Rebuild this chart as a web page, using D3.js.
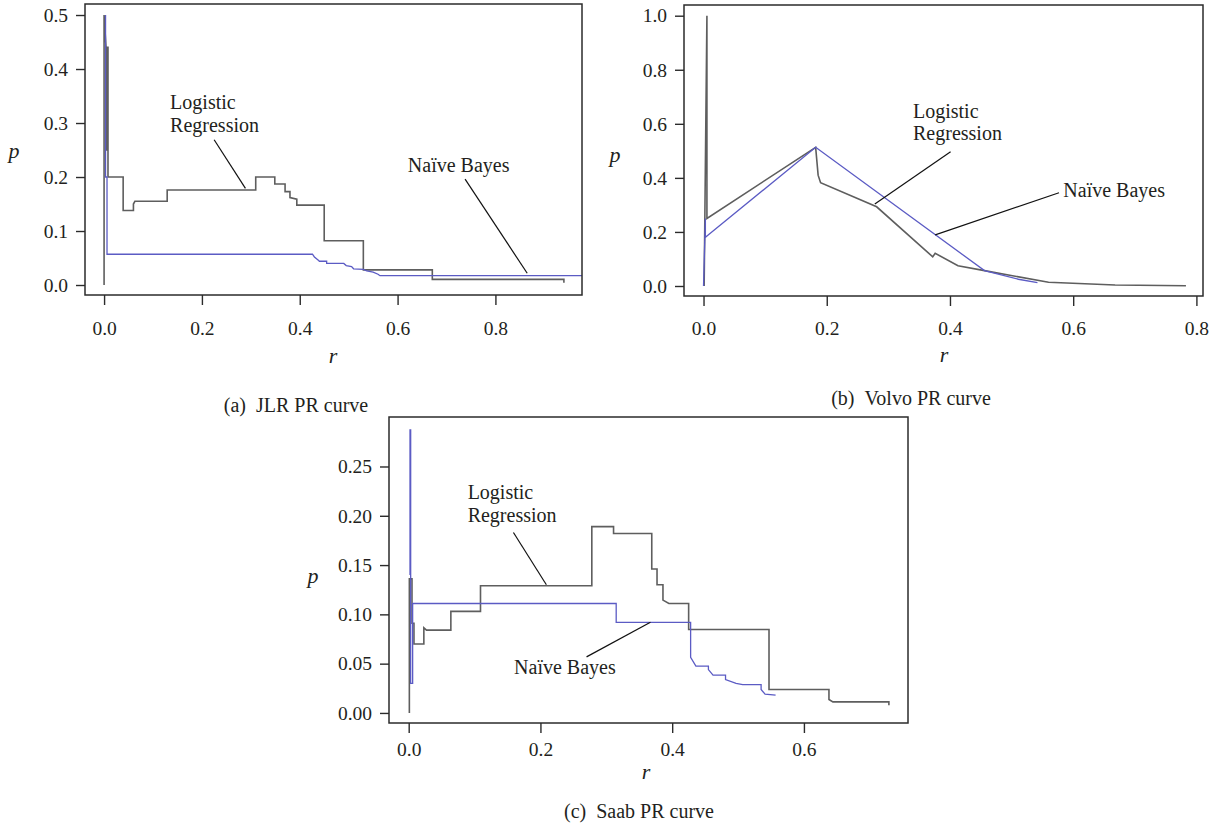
<!DOCTYPE html>
<html>
<head>
<meta charset="utf-8">
<script src="https://cdn.jsdelivr.net/npm/d3@7"></script>
<style>
    body { margin: 0; background: white; }
    text { font-family: "Liberation Serif", "DejaVu Serif", serif; fill: #231f20; }
</style>
</head>
<body>
<svg id="chart" width="1216" height="831"></svg>
<script>
// [recall r, precision p]
var jlrLogistic = [[0,0],[0,0.5],[0.004,0.44],[0.004,0.25],[0.006,0.25],[0.006,0.44],[0.008,0.44],[0.008,0.2],
    [0.039,0.2],[0.039,0.138],[0.06,0.138],[0.06,0.15],[0.063,0.155],[0.129,0.155],[0.129,0.176],[0.31,0.176],
    [0.31,0.2],[0.349,0.2],[0.349,0.187],[0.37,0.187],[0.37,0.173],[0.38,0.173],[0.38,0.162],[0.394,0.159],
    [0.394,0.148],[0.45,0.148],[0.45,0.082],[0.53,0.082],[0.53,0.028],[0.671,0.028],[0.671,0.0105],[0.94,0.0105],[0.94,0.004]]
var jlrBayes = [[0.003,0.5],[0.003,0.2],[0.006,0.2],[0.006,0.057],[0.426,0.057],[0.43,0.052],[0.438,0.046],
    [0.44,0.044],[0.455,0.044],[0.455,0.04],[0.49,0.04],[0.495,0.036],[0.506,0.034],[0.51,0.03],[0.53,0.029],
    [0.537,0.026],[0.55,0.024],[0.56,0.02],[0.564,0.0173],[1.0,0.0173]]

var volvoLogistic = [[0.001,0],[0.0055,1.0],[0.0055,0.25],[0.182,0.513],[0.186,0.41],[0.19,0.382],[0.281,0.293],
    [0.372,0.108],[0.376,0.121],[0.413,0.075],[0.456,0.057],[0.56,0.0137],[0.668,0.0037],[0.783,0.001]]
var volvoBayes = [[0,0],[0.003,0.25],[0.003,0.18],[0.008,0.19],[0.182,0.513],[0.456,0.057],[0.511,0.025],[0.542,0.0123]]

var saabLogistic = [[0.001,0],[0.001,0.136],[0.005,0.136],[0.005,0.091],[0.008,0.091],[0.008,0.07],[0.023,0.07],
    [0.023,0.0864],[0.027,0.084],[0.064,0.084],[0.064,0.103],[0.109,0.103],[0.109,0.129],[0.278,0.129],[0.278,0.189],
    [0.311,0.189],[0.311,0.182],[0.369,0.182],[0.369,0.146],[0.377,0.146],[0.377,0.13],[0.386,0.13],[0.386,0.1145],
    [0.395,0.111],[0.425,0.111],[0.425,0.0847],[0.547,0.0847],[0.547,0.0238],[0.638,0.0238],[0.638,0.0136],
    [0.644,0.0112],[0.729,0.0112],[0.729,0.0078]]
var saabBayes = [[0.002,0.14],[0.002,0.287],[0.003,0.287],[0.003,0.03],[0.006,0.03],[0.006,0.111],[0.315,0.111],
    [0.315,0.0918],[0.428,0.0918],[0.428,0.0563],[0.436,0.0475],[0.455,0.0475],[0.455,0.044],[0.462,0.0383],
    [0.481,0.0383],[0.481,0.0339],[0.497,0.0299],[0.507,0.0288],[0.535,0.0288],[0.535,0.0238],[0.541,0.019],[0.557,0.018]]

var jlrYTicks = [0, 0.1, 0.2, 0.3, 0.4, 0.5]
var volvoYTicks = [0, 0.2, 0.4, 0.6, 0.8, 1.0]
var saabYTicks = [0, 0.05, 0.1, 0.15, 0.2, 0.25]
var jlrXTicks = [0, 0.2, 0.4, 0.6, 0.8]
var volvoXTicks = [0, 0.2, 0.4, 0.6, 0.8]
var saabXTicks = [0, 0.2, 0.4, 0.6]

var svg = d3.select("#chart")

var panels = [
    {
        id: "a", caption: "(a)\u00a0\u00a0JLR PR curve", logistic: jlrLogistic, bayes: jlrBayes,
        box: {left: 85, right: 582, top: 4, bottom: 295},
        xDomain: [-0.039, 0.977], yDomain: [-0.0185, 0.5204],
        xTicks: jlrXTicks, yTicks: jlrYTicks, yFormat: ".1f", xPad: 16,
        pLabel: {x: 14, y: 153}, rLabel: {x: 333, y: 358}, capPos: {x: 296, y: 407},
        logText: [0.135, 0.326, 0.284], logLead: [[0.225, 0.269], [0.289, 0.179]],
        bayText: [0.621, 0.21], bayLead: [[0.738, 0.196], [0.865, 0.0217]]
    },
    {
        id: "b", caption: "(b)\u00a0\u00a0Volvo PR curve", logistic: volvoLogistic, bayes: volvoBayes,
        box: {left: 684, right: 1203, top: 5, bottom: 296},
        xDomain: [-0.0317, 0.8107], yDomain: [-0.037, 1.0396],
        xTicks: volvoXTicks, yTicks: volvoYTicks, yFormat: ".1f", xPad: 15,
        pLabel: {x: 615, y: 157}, rLabel: {x: 944, y: 357}, capPos: {x: 911, y: 400},
        logText: [0.34, 0.62, 0.54], logLead: [[0.401, 0.497], [0.278, 0.303]],
        bayText: [0.584, 0.33], bayLead: [[0.577, 0.345], [0.376, 0.189]]
    },
    {
        id: "c", caption: "(c)\u00a0\u00a0Saab PR curve", logistic: saabLogistic, bayes: saabBayes,
        box: {left: 389, right: 908, top: 417, bottom: 723},
        xDomain: [-0.0299, 0.758], yDomain: [-0.0102, 0.3002],
        xTicks: saabXTicks, yTicks: saabYTicks, yFormat: ".2f", xPad: 9,
        pLabel: {x: 313, y: 578}, rLabel: {x: 646, y: 774}, capPos: {x: 639, y: 813},
        logText: [0.0895, 0.2169, 0.1935], logLead: [[0.159, 0.183], [0.209, 0.13]],
        bayText: [0.16, 0.04], bayLead: [[0.27, 0.0569], [0.367, 0.0919]]
    }
]

panels.forEach(function(cfg) {
    var b = cfg.box
    var xScale = d3.scaleLinear().domain(cfg.xDomain).range([b.left, b.right])
    var yScale = d3.scaleLinear().domain(cfg.yDomain).range([b.bottom, b.top])

    var g = svg.append("g")

    svg.append("clipPath")
       .attr("id", "clip-" + cfg.id)
       .append("rect")
       .attr("x", b.left).attr("y", b.top)
       .attr("width", b.right - b.left).attr("height", b.bottom - b.top)

    var line = d3.line()
                 .x(d => xScale(d[0]))
                 .y(d => yScale(d[1]))

    var curves = g.append("g").attr("clip-path", "url(#clip-" + cfg.id + ")")

    curves.append("path")
          .datum(cfg.logistic)
          .attr("d", line)
          .attr("fill", "none")
          .attr("stroke", "#5e5e5e")
          .attr("stroke-width", 1.6)

    curves.append("path")
          .datum(cfg.bayes)
          .attr("d", line)
          .attr("fill", "none")
          .attr("stroke", "#5b5bc4")
          .attr("stroke-width", 1.3)

    // frame
    g.append("rect")
     .attr("x", b.left).attr("y", b.top)
     .attr("width", b.right - b.left).attr("height", b.bottom - b.top)
     .attr("fill", "none")
     .attr("stroke", "#2b2b2b")
     .attr("stroke-width", 1.5)

    var yAxis = g.append("g")
                 .attr("transform", `translate(${b.left},0)`)
                 .call(d3.axisLeft(yScale).tickValues(cfg.yTicks).tickFormat(d3.format(cfg.yFormat))
                         .tickSize(9).tickPadding(8))
    var xAxis = g.append("g")
                 .attr("transform", `translate(0,${b.bottom})`)
                 .call(d3.axisBottom(xScale).tickValues(cfg.xTicks).tickFormat(d3.format(".1f"))
                         .tickSize(10).tickPadding(cfg.xPad))
    ;[yAxis, xAxis].forEach(function(ax) {
        ax.select(".domain").remove()
        ax.selectAll("line").attr("stroke", "#2b2b2b").attr("stroke-width", 1.4)
        ax.selectAll("text").style("font-size", "19.5px").attr("fill", "#231f20")
          .style("font-family", "'Liberation Serif', serif")
    })

    g.append("text")
     .attr("x", cfg.pLabel.x).attr("y", cfg.pLabel.y)
     .attr("text-anchor", "middle").attr("dominant-baseline", "middle")
     .style("font-size", "22px").style("font-style", "italic")
     .text("p")

    g.append("text")
     .attr("x", cfg.rLabel.x).attr("y", cfg.rLabel.y)
     .attr("text-anchor", "middle").attr("dominant-baseline", "middle")
     .style("font-size", "22px").style("font-style", "italic")
     .text("r")

    g.append("text")
     .attr("x", cfg.capPos.x).attr("y", cfg.capPos.y)
     .attr("text-anchor", "middle").attr("dominant-baseline", "middle")
     .style("font-size", "20px")
     .text(cfg.caption)

    // annotations
    var logLabel = g.append("text")
                    .attr("x", xScale(cfg.logText[0]))
                    .style("font-size", "20px")
    logLabel.append("tspan").attr("x", xScale(cfg.logText[0])).attr("y", yScale(cfg.logText[1])).text("Logistic")
    logLabel.append("tspan").attr("x", xScale(cfg.logText[0])).attr("y", yScale(cfg.logText[2])).text("Regression")

    g.append("text")
     .attr("x", xScale(cfg.bayText[0])).attr("y", yScale(cfg.bayText[1]))
     .style("font-size", "20px")
     .text("Naïve Bayes")

    ;[cfg.logLead, cfg.bayLead].forEach(function(lead) {
        g.append("path")
         .datum(lead)
         .attr("d", line)
         .attr("fill", "none")
         .attr("stroke", "#111")
         .attr("stroke-width", 1.2)
    })
})
</script>
</body>
</html>
